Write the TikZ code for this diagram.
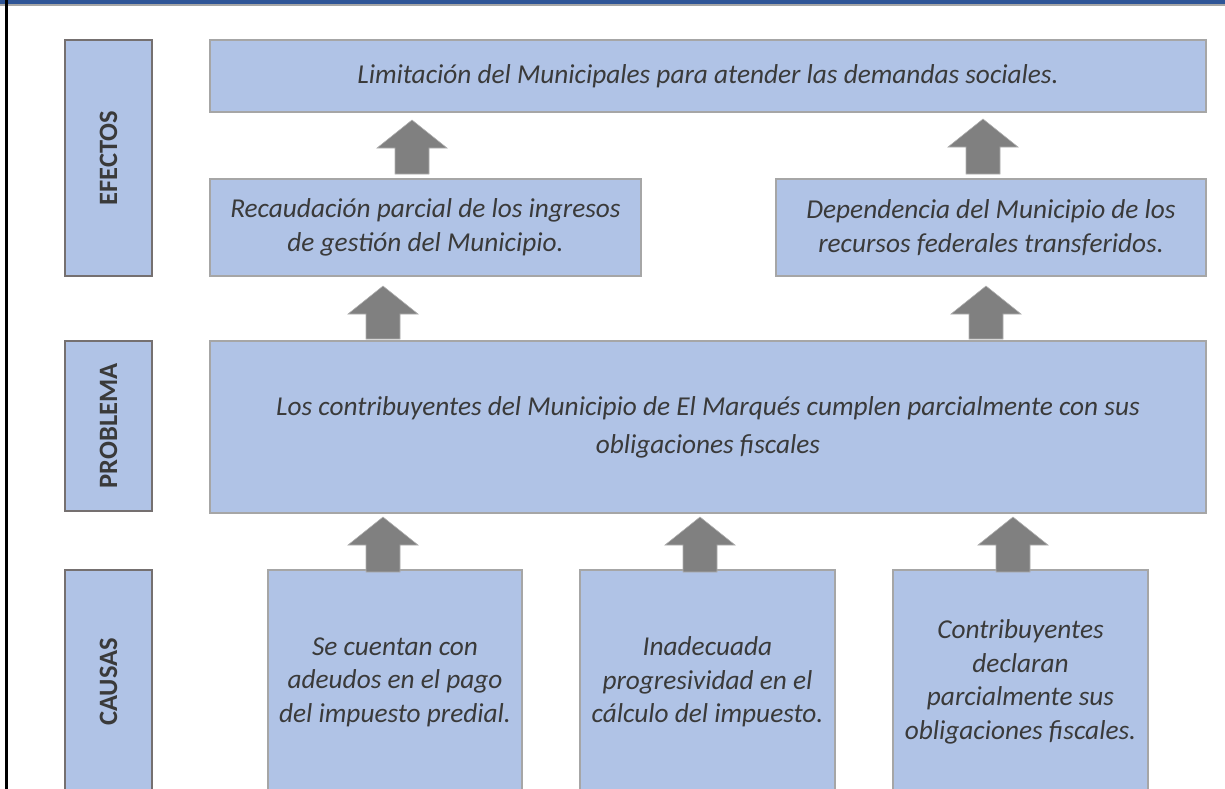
\documentclass[tikz,border=0pt]{standalone}
\usepackage{fontspec}
\setmainfont{Carlito}
\definecolor{boxfill}{HTML}{B0C3E6}
\definecolor{boxline}{HTML}{A6A6A6}
\definecolor{lblline}{HTML}{757070}
\definecolor{txt}{HTML}{3A3A3A}
\definecolor{arrowfill}{HTML}{808080}
\definecolor{arrowline}{HTML}{B0B0B0}
\definecolor{topblue}{HTML}{2F5597}
\newcommand\blkarrow[4]{% name, x, ytip, ybottom
  \coordinate (#1) at (#2,#3);
  \filldraw[arrowfill, draw=arrowline, line width=0.6pt]
    (#2-17,#4) -- (#2-17,#3+28) -- (#2-35,#3+28) -- (#1)
    -- (#2+35,#3+28) -- (#2+17,#3+28) -- (#2+17,#4) -- cycle;}
\tikzset{
  cbox/.style={draw=boxline, fill=boxfill, line width=2pt, anchor=north west,
    inner sep=0pt, align=center, text=txt,
    font=\fontsize{27.3}{33.6}\selectfont\itshape},
  lbox/.style={draw=lblline, fill=boxfill, line width=2pt, anchor=north west,
    inner sep=0pt, minimum width=87pt},
  lbltext/.style={rotate=90, text=txt, font=\fontsize{26.5}{33}\selectfont\bfseries}
}
\begin{document}
\begin{tikzpicture}[x=1pt,y=-1pt]
\useasboundingbox (0,0) rectangle (1225,789);
\clip (0,0) rectangle (1225,789);
\fill[white] (0,0) rectangle (1225,789);
% frame
\fill[topblue] (0,0) rectangle (1225,4);
\fill[boxline] (0,4) rectangle (1225,6.5);
\fill[black] (5,0) rectangle (7.5,789);
% label boxes
\node[lbox, minimum height=236pt] (lef) at (64,39) {};
\node[lbltext] (lefT) at (lef.center) {EFECTOS};
\node[lbox, minimum height=170pt] (lpr) at (64,340) {};
\node[lbltext] (lprT) at (lpr.center) {PROBLEMA};
\node[lbox, minimum height=224pt] (lca) at (64,569) {};
\node[lbltext] (lcaT) at (lca.center) {CAUSAS};
% effects
\node[cbox, minimum width=996pt, minimum height=72pt] (e1) at (209,39)
  {Limitación del Municipales para atender las demandas sociales.};
\node[cbox, minimum width=431pt, minimum height=97pt] (e2) at (209,178)
  {Recaudación parcial de los ingresos\\de gestión del Municipio.};
\node[cbox, minimum width=430pt, minimum height=97pt] (e3) at (775,178)
  {Dependencia del Municipio de los\\recursos federales transferidos.};
% problem
\node[cbox, minimum width=996pt, minimum height=172pt,
  font=\fontsize{27.3}{38}\selectfont\itshape] (p) at (209,340)
  {Los contribuyentes del Municipio de El Marqués cumplen parcialmente con sus\\obligaciones fiscales};
% causes
\node[cbox, minimum width=254pt, minimum height=224pt] (c1) at (267,569)
  {Se cuentan con\\adeudos en el pago\\del impuesto predial.};
\node[cbox, minimum width=255pt, minimum height=224pt] (c2) at (579,569)
  {Inadecuada\\progresividad en el\\cálculo del impuesto.};
\node[cbox, minimum width=255pt, minimum height=224pt] (c3) at (892,569)
  {Contribuyentes\\declaran\\parcialmente sus\\obligaciones fiscales.};
% arrows
\blkarrow{a1}{412}{120}{174}
\blkarrow{a2}{983}{119}{174}
\blkarrow{a3}{383}{286}{339}
\blkarrow{a4}{986}{286}{339}
\blkarrow{a5}{383}{517}{572}
\blkarrow{a6}{700}{517}{572}
\blkarrow{a7}{1013}{517}{572}
\end{tikzpicture}
\end{document}
